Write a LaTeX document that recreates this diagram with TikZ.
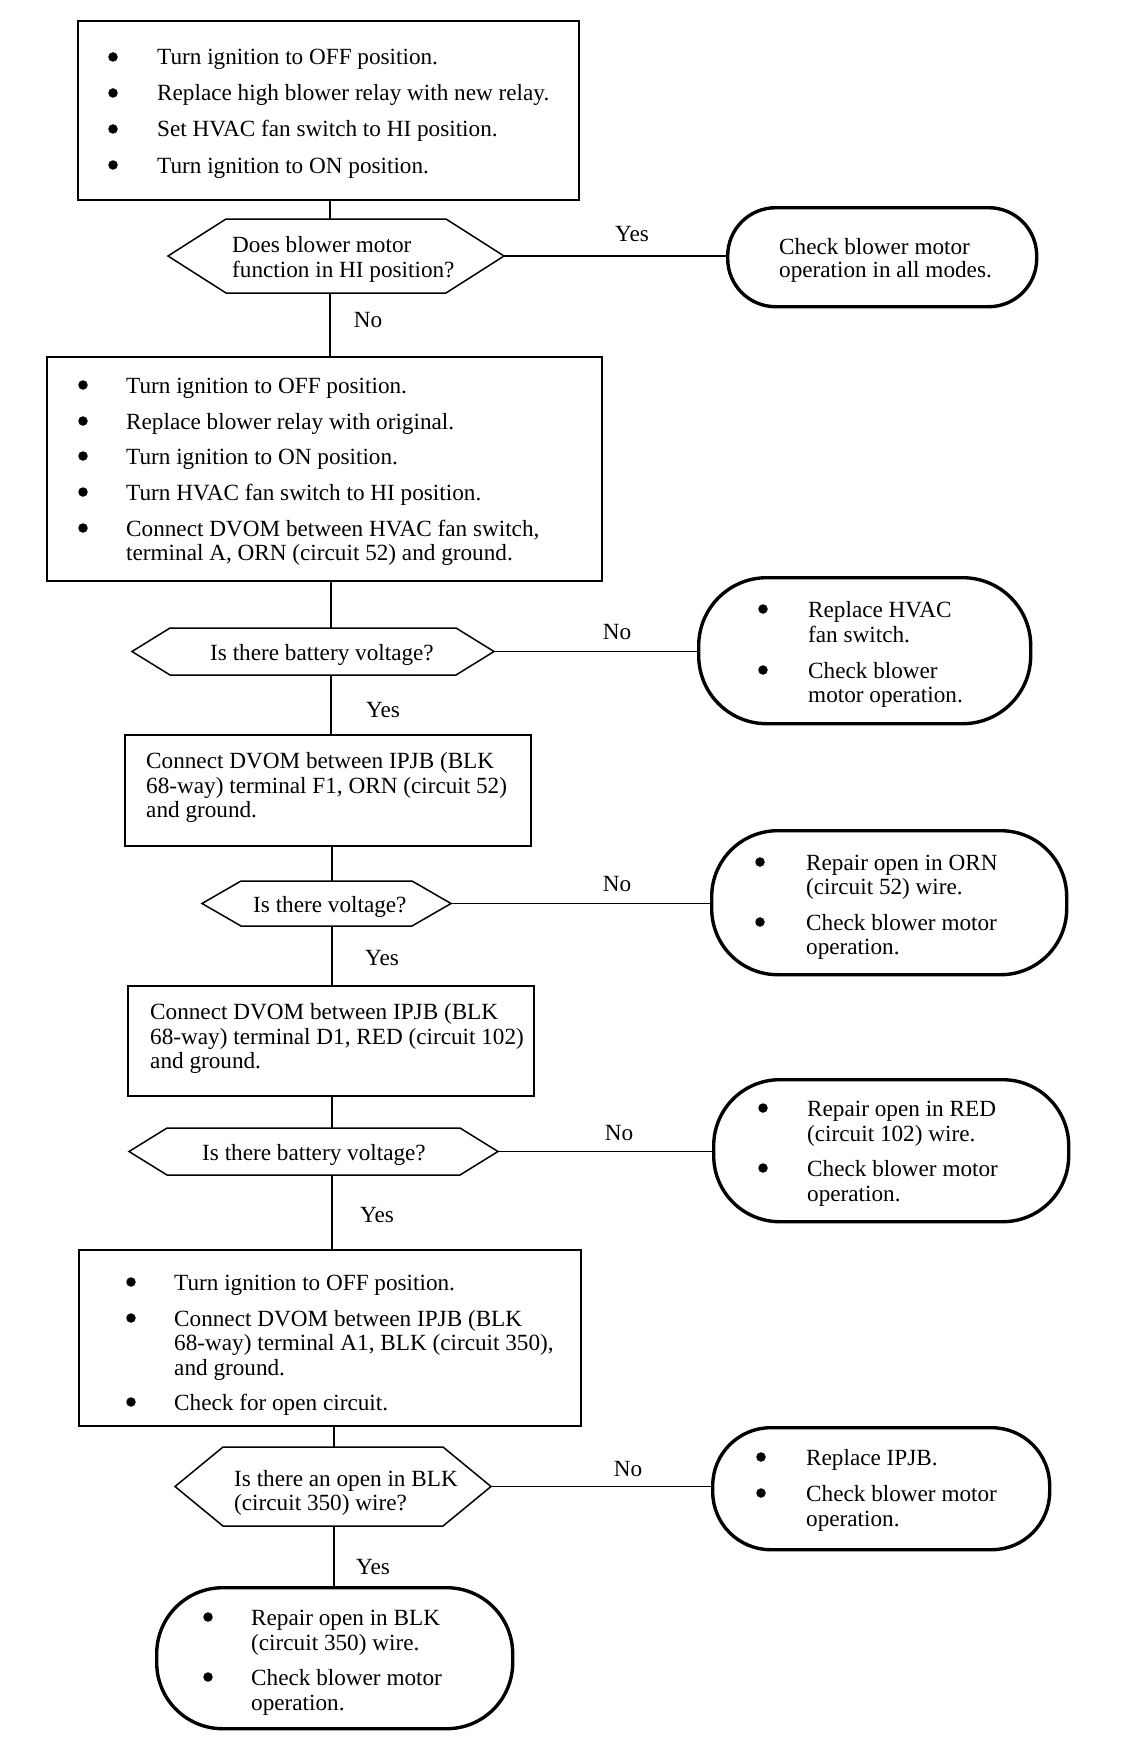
\documentclass[tikz,border=0pt]{standalone}
\usepackage{fontspec}
\setmainfont{Liberation Serif}
\newcommand\mytl[4]{\node[txt] (#1) at (#2,#3+8) {#4};}
\newcommand\mybul[3]{\node[bul] (#1) at (#2,#3) {};}
\newcommand\hexdraw[2]{\draw[hexline] (#1.west) -- ([xshift=#2]#1.north west) -- ([xshift=-#2]#1.north east) -- (#1.east) -- ([xshift=-#2]#1.south east) -- ([xshift=#2]#1.south west) -- cycle;}
\begin{document}
\begin{tikzpicture}[x=1pt,y=-1pt,
  txt/.style={inner sep=0pt, anchor=base west, font=\fontsize{23.2}{25}\selectfont},
  lbl/.style={inner sep=0pt, font=\fontsize{23.2}{25}\selectfont},
  bul/.style={circle, fill=black, inner sep=0pt, minimum size=9.5pt},
  box/.style={draw, line width=1.8pt, inner sep=0pt, anchor=north west},
  term/.style={draw, line width=3.4pt, rounded corners=46pt, inner sep=0pt, anchor=north west},
  hexn/.style={inner sep=0pt, outer sep=0pt},
  hexline/.style={line width=1.5pt, line join=miter},
  conn/.style={line width=1.5pt}]
\fill[white] (0,0) rectangle (1136,1750);
\useasboundingbox (0,0) rectangle (1136,1750);

% ---------- Box 1
\node[box, minimum width=501pt, minimum height=179pt] (b1) at (77,20) {};
\mybul{b1u1}{113}{57}\mytl{b1l1}{157}{57}{Turn ignition to OFF position.}
\mybul{b1u2}{113}{93}\mytl{b1l2}{157}{93}{Replace high blower relay with new relay.}
\mybul{b1u3}{113}{129}\mytl{b1l3}{157}{129}{Set HVAC fan switch to HI position.}
\mybul{b1u4}{113}{165}\mytl{b1l4}{157}{165}{Turn ignition to ON position.}

% ---------- Decision 1
\node[hexn, minimum width=336pt, minimum height=74pt] (d1) at (336,256) {};
\hexdraw{d1}{58}
\mytl{d1l1}{232}{244}{Does blower motor}
\mytl{d1l2}{232}{269}{function in HI position?}

\node[term, minimum width=309pt, minimum height=99pt, rounded corners=48pt] (t1) at (726,206) {};
\mytl{t1l1}{779}{246}{Check blower motor}
\mytl{t1l2}{779}{269}{operation in all modes.}

% ---------- Box 2
\node[box, minimum width=555pt, minimum height=224pt] (b2) at (46,356) {};
\mybul{b2u1}{83}{385}\mytl{b2l1}{126}{385}{Turn ignition to OFF position.}
\mybul{b2u2}{83}{421}\mytl{b2l2}{126}{421}{Replace blower relay with original.}
\mybul{b2u3}{83}{456}\mytl{b2l3}{126}{456}{Turn ignition to ON position.}
\mybul{b2u4}{83}{492}\mytl{b2l4}{126}{492}{Turn HVAC fan switch to HI position.}
\mybul{b2u5}{83}{528}\mytl{b2l5}{126}{528}{Connect DVOM between HVAC fan switch,}
\mytl{b2l6}{126}{552}{terminal A, ORN (circuit 52) and ground.}

% ---------- Decision 2
\node[hexn, minimum width=362pt, minimum height=47pt] (d2) at (313,651.5) {};
\hexdraw{d2}{38}
\mytl{d2l1}{210}{652}{Is there battery voltage?}

\node[term, minimum width=332pt, minimum height=146pt, rounded corners=68pt] (t2) at (697,576) {};
\mybul{t2u1}{763}{609}\mytl{t2l1}{808}{609}{Replace HVAC}
\mytl{t2l2}{808}{634}{fan switch.}
\mybul{t2u2}{763}{670}\mytl{t2l3}{808}{670}{Check blower}
\mytl{t2l4}{808}{694}{motor operation.}

% ---------- Box 3
\node[box, minimum width=406pt, minimum height=111pt] (b3) at (124,734) {};
\mytl{b3l1}{146}{760}{Connect DVOM between IPJB (BLK}
\mytl{b3l2}{146}{785}{68-way) terminal F1, ORN (circuit 52)}
\mytl{b3l3}{146}{809}{and ground.}

% ---------- Decision 3
\node[hexn, minimum width=249pt, minimum height=45pt] (d3) at (326.5,903.5) {};
\hexdraw{d3}{39}
\mytl{d3l1}{253}{904}{Is there voltage?}

\node[term, minimum width=355pt, minimum height=144pt, rounded corners=66pt] (t3) at (710,829) {};
\mybul{t3u1}{760}{862}\mytl{t3l1}{806}{862}{Repair open in ORN}
\mytl{t3l2}{806}{886}{(circuit 52) wire.}
\mybul{t3u2}{760}{922}\mytl{t3l3}{806}{922}{Check blower motor}
\mytl{t3l4}{806}{946}{operation.}

% ---------- Box 4
\node[box, minimum width=406pt, minimum height=110pt] (b4) at (127,985) {};
\mytl{b4l1}{150}{1011}{Connect DVOM between IPJB (BLK}
\mytl{b4l2}{150}{1036}{68-way) terminal D1, RED (circuit 102)}
\mytl{b4l3}{150}{1060}{and ground.}

% ---------- Decision 4
\node[hexn, minimum width=369pt, minimum height=47pt] (d4) at (313.5,1151.5) {};
\hexdraw{d4}{38}
\mytl{d4l1}{202}{1152}{Is there battery voltage?}

\node[term, minimum width=355pt, minimum height=142pt, rounded corners=66pt] (t4) at (712,1078) {};
\mybul{t4u1}{763}{1108}\mytl{t4l1}{807}{1108}{Repair open in RED}
\mytl{t4l2}{807}{1133}{(circuit 102) wire.}
\mybul{t4u2}{763}{1168}\mytl{t4l3}{807}{1168}{Check blower motor}
\mytl{t4l4}{807}{1193}{operation.}

% ---------- Box 5
\node[box, minimum width=502pt, minimum height=176pt] (b5) at (78,1249) {};
\mybul{b5u1}{131}{1282}\mytl{b5l1}{174}{1282}{Turn ignition to OFF position.}
\mybul{b5u2}{131}{1318}\mytl{b5l2}{174}{1318}{Connect DVOM between IPJB (BLK}
\mytl{b5l3}{174}{1342}{68-way) terminal A1, BLK (circuit 350),}
\mytl{b5l4}{174}{1367}{and ground.}
\mybul{b5u3}{131}{1402}\mytl{b5l5}{174}{1402}{Check for open circuit.}

% ---------- Decision 5
\node[hexn, minimum width=316pt, minimum height=79pt] (d5) at (333,1486.5) {};
\hexdraw{d5}{48}
\mytl{d5l1}{234}{1478}{Is there an open in BLK}
\mytl{d5l2}{234}{1502}{(circuit 350) wire?}

\node[term, minimum width=337pt, minimum height=122pt, rounded corners=58pt] (t5) at (711,1426) {};
\mybul{t5u1}{761}{1457}\mytl{t5l1}{806}{1457}{Replace IPJB.}
\mybul{t5u2}{761}{1493}\mytl{t5l2}{806}{1493}{Check blower motor}
\mytl{t5l3}{806}{1518}{operation.}

\node[term, minimum width=356pt, minimum height=141pt, rounded corners=66pt] (t6) at (155,1586) {};
\mybul{t6u1}{208}{1617}\mytl{t6l1}{251}{1617}{Repair open in BLK}
\mytl{t6l2}{251}{1642}{(circuit 350) wire.}
\mybul{t6u2}{208}{1677}\mytl{t6l3}{251}{1677}{Check blower motor}
\mytl{t6l4}{251}{1702}{operation.}

% ---------- Spine coordinates
\coordinate (sa) at (330,0);
\coordinate (sb) at (331,0);
\coordinate (sc) at (332,0);
\coordinate (sd) at (334,0);

% ---------- Connectors
\draw[conn] (b1.south -| sa) -- (d1.north -| sa);
\draw[conn] (d1.south -| sa) -- (b2.north -| sa);
\draw[conn] (d1.east) -- (d1.east -| t1.west);
\draw[conn] (b2.south -| sb) -- (d2.north -| sb);
\draw[conn] (d2.south -| sb) -- (b3.north -| sb);
\draw[conn] (d2.east) -- (d2.east -| t2.west);
\draw[conn] (b3.south -| sc) -- (d3.north -| sc);
\draw[conn] (d3.south -| sc) -- (b4.north -| sc);
\draw[conn] (d3.east) -- (d3.east -| t3.west);
\draw[conn] (b4.south -| sc) -- (d4.north -| sc);
\draw[conn] (d4.south -| sc) -- (b5.north -| sc);
\draw[conn] (d4.east) -- (d4.east -| t4.west);
\draw[conn] (b5.south -| sd) -- (d5.north -| sd);
\draw[conn] (d5.south -| sd) -- (t6.north -| sd);
\draw[conn] (d5.east) -- (d5.east -| t5.west);

% ---------- Labels
\node[lbl] (y1) at (632,234) {Yes};
\node[lbl] (n1) at (368,320) {No};
\node[lbl] (n2) at (617,632) {No};
\node[lbl] (y2) at (383,710) {Yes};
\node[lbl] (n3) at (617,884) {No};
\node[lbl] (y3) at (382,958) {Yes};
\node[lbl] (n4) at (619,1133) {No};
\node[lbl] (y4) at (377,1215) {Yes};
\node[lbl] (n5) at (628,1469) {No};
\node[lbl] (y5) at (373,1567) {Yes};
\end{tikzpicture}
\end{document}
